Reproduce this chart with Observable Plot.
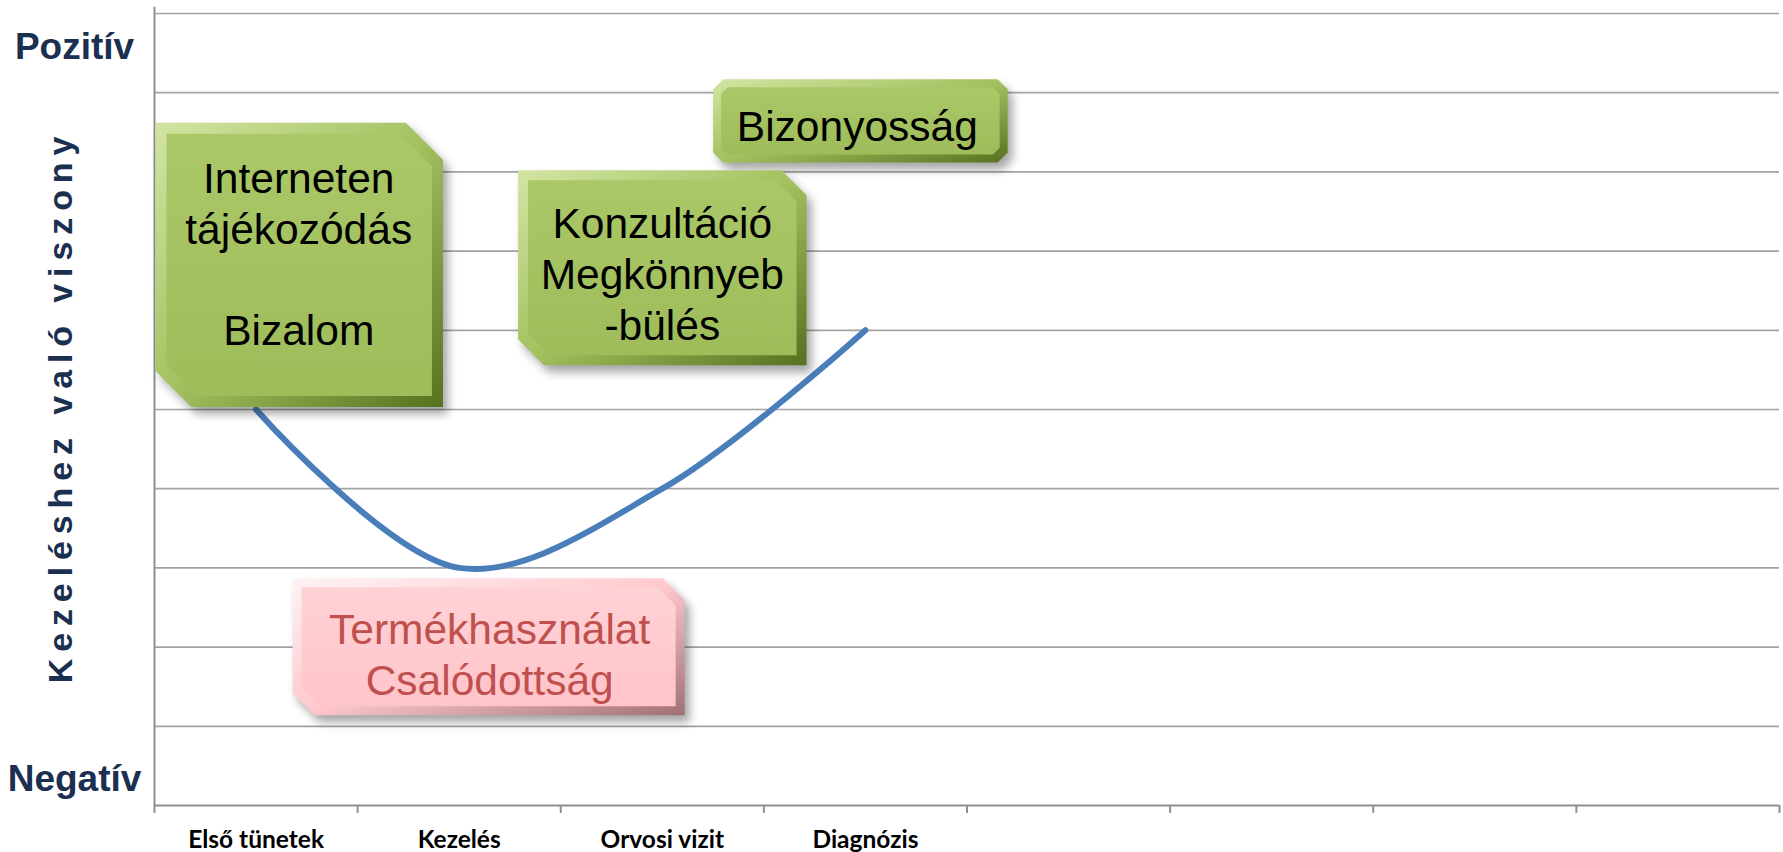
<!DOCTYPE html>
<html>
<head>
<meta charset="utf-8">
<script src="https://cdn.jsdelivr.net/npm/d3@7"></script>
<script src="https://cdn.jsdelivr.net/npm/@observablehq/plot@0.6"></script>
<style>
  html, body { margin: 0; padding: 0; background: #fff; }
  #chart { width: 1783px; height: 852px; }
</style>
</head>
<body>
<svg width="0" height="0" style="position:absolute">
  <defs>
    <linearGradient id="gBevel" x1="0" y1="0" x2="1" y2="1">
      <stop offset="0" stop-color="#D2E5A3"/>
      <stop offset="0.5" stop-color="#A3C15F"/>
      <stop offset="1" stop-color="#56711F"/>
    </linearGradient>
    <linearGradient id="gFace" x1="0" y1="0" x2="0" y2="1">
      <stop offset="0" stop-color="#ABC868"/>
      <stop offset="1" stop-color="#9EBC5A"/>
    </linearGradient>
    <linearGradient id="pBevel" x1="0" y1="0" x2="1" y2="1">
      <stop offset="0" stop-color="#FFF3F4"/>
      <stop offset="0.5" stop-color="#FFC9CE"/>
      <stop offset="1" stop-color="#A07075"/>
    </linearGradient>
    <linearGradient id="pFace" x1="0" y1="0" x2="0" y2="1">
      <stop offset="0" stop-color="#FFD2D6"/>
      <stop offset="1" stop-color="#FFC4C9"/>
    </linearGradient>
  </defs>
</svg>
<div id="chart"></div>
<script>
// ---- data ----
const categories = ["Első tünetek", "Kezelés", "Orvosi vizit", "Diagnózis", "", "", "", ""];
const relation = [5, 3, 4, 6]; // 0 = Negatív ... 10 = Pozitív
const yEndLabels = ["Negatív", "Pozitív"];
const yEndValues = [0.33, 9.58];
const yTitle = "Kezeléshez való viszony";
const gridValues = [1, 2, 3, 4, 5, 6, 7, 8, 9, 10];

const boxLabels = ["Interneten\ntájékozódás\n\nBizalom", "Konzultáció\nMegkönnyeb\n-bülés", "Bizonyosság", "Termékhasználat\nCsalódottság"];
const boxTone = ["good", "good", "good", "bad"];
const boxX1 = [0.005, 1.79, 2.75, 0.68];
const boxX2 = [1.42, 3.21, 4.20, 2.61];
const boxY1 = [5.03, 5.56, 8.12, 1.14];
const boxY2 = [8.62, 8.02, 9.17, 2.87];
const boxTextX = [0.71, 2.50, 3.46, 1.65];
const boxTextY = [6.98, 6.73, 8.60, 1.92];

// ---- layout / style ----
const W = 1783, H = 852, ML = 154, MR = 4, MT = 13, MB = 47;
const ux = (W - ML - MR) / 8, uy = (H - MT - MB) / 10;
const chamfers = [
  {tl: 0, tr: 37, br: 0, bl: 36},
  {tl: 0, tr: 25, br: 0, bl: 26},
  {tl: 10, tr: 10, br: 10, bl: 10},
  {tl: 0, tr: 22, br: 0, bl: 22}
];
const bevels = [11, 10, 8, 9];

function poly(i, inset) {
  const c = chamfers[i], b = inset ? bevels[i] : 0;
  const k = inset ? 0.41 * b : 0;
  const cc = v => Math.max(v - k, 0);
  const x1 = boxX1[i] + b / ux, x2 = boxX2[i] - b / ux;
  const y1 = boxY1[i] + b / uy, y2 = boxY2[i] - b / uy;
  const tl = cc(c.tl), tr = cc(c.tr), br = cc(c.br), bl = cc(c.bl);
  const pts = [
    [x1 + tl / ux, y2], [x2 - tr / ux, y2], [x2, y2 - tr / uy], [x2, y1 + br / uy],
    [x2 - br / ux, y1], [x1 + bl / ux, y1], [x1, y1 + bl / uy], [x1, y2 - tl / uy]
  ];
  pts.push(pts[0]);
  return pts.map(([x, y]) => ({box: i, x, y}));
}
const idxGood = boxTone.map((t, i) => t === "good" ? i : -1).filter(i => i >= 0);
const idxBad = boxTone.map((t, i) => t === "bad" ? i : -1).filter(i => i >= 0);
const outerAll = boxLabels.flatMap((_, i) => poly(i, false));
const outerGood = idxGood.flatMap(i => poly(i, false));
const innerGood = idxGood.flatMap(i => poly(i, true));
const outerBad = idxBad.flatMap(i => poly(i, false));
const innerBad = idxBad.flatMap(i => poly(i, true));

const navy = "#1B2F50";
const gridColor = "#A3A3A3";
const axisColor = "#8F8F8F";
const boxFont = "'Liberation Sans', Arial, sans-serif";

const chart = Plot.plot({
  width: W, height: H,
  marginLeft: ML, marginRight: MR, marginTop: MT, marginBottom: MB,
  style: {background: "#fff", overflow: "visible"},
  x: {domain: [0, 8], axis: null},
  y: {domain: [0, 10], axis: null},
  marks: [
    Plot.ruleY(gridValues, {stroke: gridColor, strokeWidth: 1.7}),
    Plot.ruleY([0], {stroke: axisColor, strokeWidth: 2}),
    Plot.ruleX([0], {y1: -0.1, y2: 10.08, stroke: axisColor, strokeWidth: 2}),
    Plot.ruleX(d3.range(1, categories.length + 1), {y1: 0, y2: -0.1, stroke: axisColor, strokeWidth: 2}),
    Plot.text(categories, {
      x: (d, i) => i + 0.5, frameAnchor: "bottom", lineAnchor: "middle", textAnchor: "middle", dy: 35, text: d => d,
      fontSize: 24.5, fontWeight: "bold", fontFamily: "Lato, 'Liberation Sans', sans-serif", fill: "#000"
    }),
    Plot.line(relation, {
      x: (d, i) => i + 0.5, y: d => d, curve: "catmull-rom",
      stroke: "#4A7EBB", strokeWidth: 6, strokeLinecap: "round"
    }),
    // box shadows
    Plot.line(outerAll, {x: "x", y: "y", z: "box", fill: "#000", fillOpacity: 0.35, stroke: "none", dx: 5, dy: 7, imageFilter: "blur(5px)"}),
    // green boxes
    Plot.line(outerGood, {x: "x", y: "y", z: "box", fill: "url(#gBevel)", stroke: "none"}),
    Plot.line(innerGood, {x: "x", y: "y", z: "box", fill: "url(#gFace)", stroke: "none"}),
    // pink box
    Plot.line(outerBad, {x: "x", y: "y", z: "box", fill: "url(#pBevel)", stroke: "none"}),
    Plot.line(innerBad, {x: "x", y: "y", z: "box", fill: "url(#pFace)", stroke: "none"}),
    Plot.text(idxGood, {
      x: i => boxTextX[i], y: i => boxTextY[i], text: i => boxLabels[i],
      fontSize: 42.5, lineHeight: 1.2, fontFamily: boxFont, fill: "#000"
    }),
    Plot.text(idxBad, {
      x: i => boxTextX[i], y: i => boxTextY[i], text: i => boxLabels[i],
      fontSize: 42.5, lineHeight: 1.2, fontFamily: boxFont, fill: "#C0504D"
    }),
    // y end labels
    Plot.text(yEndLabels, {
      y: (d, i) => yEndValues[i], frameAnchor: "left", textAnchor: "middle", lineAnchor: "middle", dx: -80, text: d => d,
      fontSize: 37, fontWeight: "bold", fontFamily: boxFont, fill: navy
    }),
    // y title
    Plot.text([yTitle], {
      frameAnchor: "left", textAnchor: "middle", lineAnchor: "middle", rotate: -90, dx: -93, dy: -3, text: d => d,
      fontSize: 34, fontWeight: "bold", fontFamily: boxFont, fill: navy
    })
  ]
});

d3.select(chart).selectAll("text").filter(function() { return this.textContent === yTitle; })
  .style("letter-spacing", "6.9px");

document.getElementById("chart").appendChild(chart);
</script>
</body>
</html>
